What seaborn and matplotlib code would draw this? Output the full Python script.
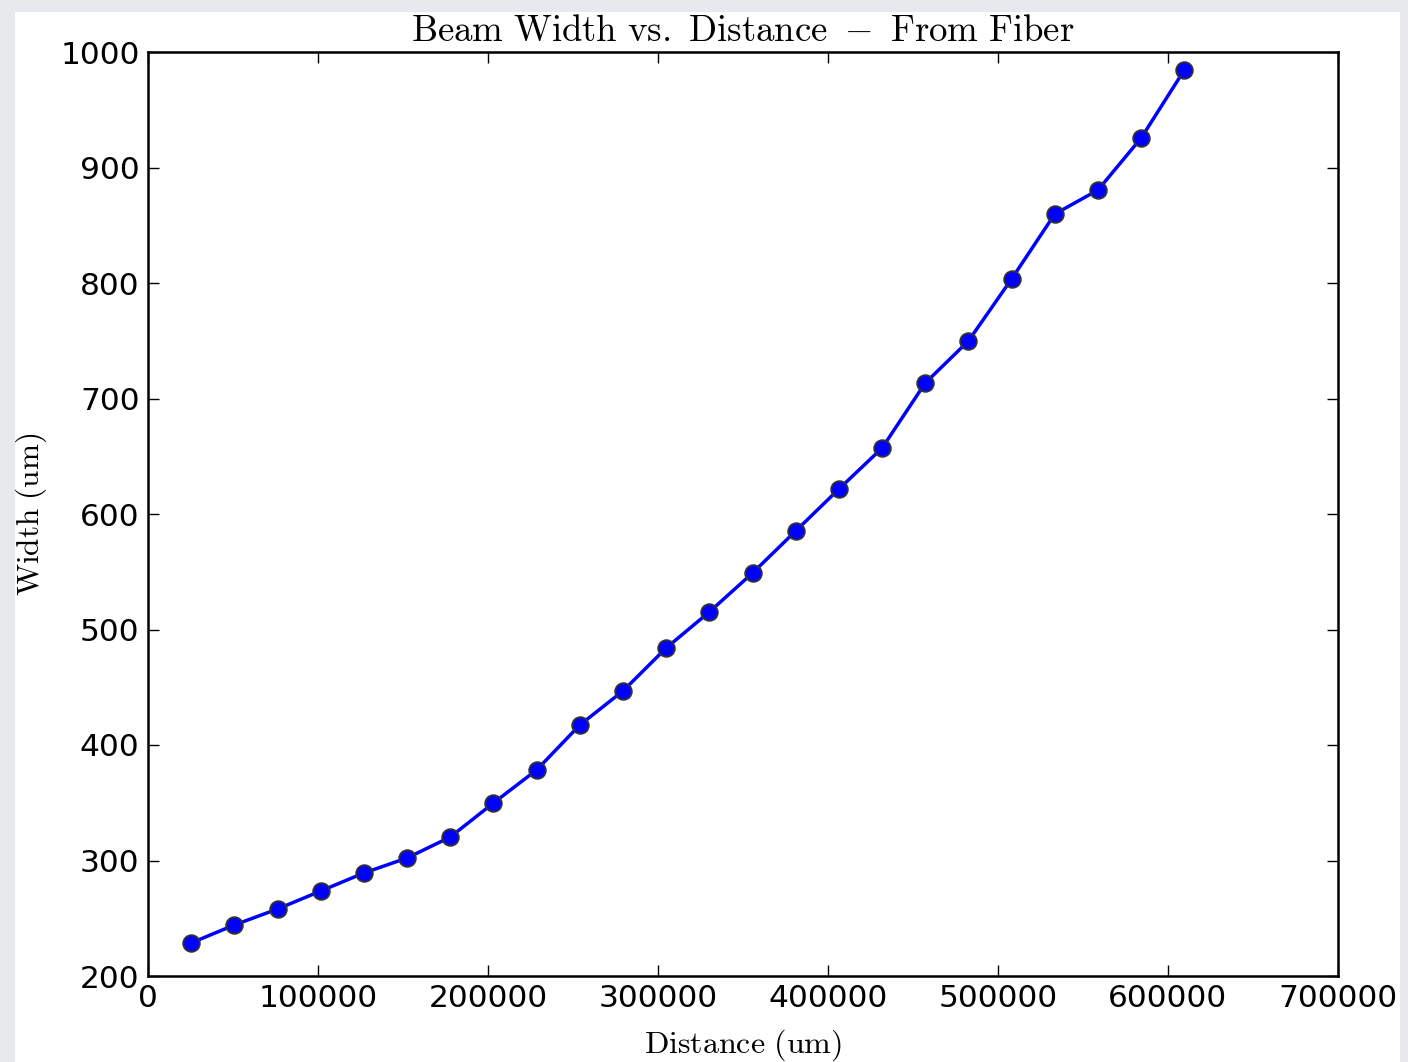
import matplotlib
matplotlib.use("Agg")
import matplotlib.pyplot as plt
import seaborn as sns
import pandas as pd
from matplotlib.patches import Rectangle

distance_um = [25400, 50800, 76200, 101600, 127000, 152400, 177800, 203200,
               228600, 254000, 279400, 304800, 330200, 355600, 381000, 406400,
               431800, 457200, 482600, 508000, 533400, 558800, 584200, 609600]
width_um = [228.6, 244.2, 258.0, 273.6, 289.2, 302.2, 320.3, 349.8,
            378.4, 417.3, 446.8, 484.0, 515.2, 548.9, 585.3, 621.6,
            657.1, 713.4, 749.8, 803.5, 859.7, 880.5, 925.5, 984.4]
x_ticks = [0, 100000, 200000, 300000, 400000, 500000, 600000, 700000]
y_ticks = [200, 300, 400, 500, 600, 700, 800, 900, 1000]

df = pd.DataFrame({"Distance": distance_um, "Width": width_um})

sns.set_style("ticks")
plt.rcParams['font.family'] = ['DejaVu Sans']
plt.rcParams['mathtext.fontset'] = 'cm'
plt.rcParams['text.color'] = 'black'
plt.rcParams['axes.labelcolor'] = 'black'

W, H = 1408, 1062
fig = plt.figure(figsize=(W / 100, H / 100), dpi=100)
fig.patch.set_facecolor('#e7e9ed')
fig.patches.append(Rectangle((15 / W, 0), (1400 - 15) / W, (H - 12) / H,
                             transform=fig.transFigure, facecolor='white',
                             edgecolor='none', zorder=-10))

ax = fig.add_axes([148 / W, (H - 976) / H, (1338 - 148) / W, (976 - 52) / H])
ax.set_zorder(5)
ax.set_facecolor('white')

sns.lineplot(data=df, x="Distance", y="Width", ax=ax, color='blue',
             linewidth=2.5, marker='o', markersize=12,
             markerfacecolor='blue', markeredgecolor='#333333',
             markeredgewidth=1.3, estimator=None, sort=False)

ax.set_xlim(0, 700000)
ax.set_ylim(200, 1000)
ax.set_xticks(x_ticks)
ax.set_yticks(y_ticks)
ax.set_xticklabels([str(v) for v in x_ticks])
ax.set_yticklabels([str(v) for v in y_ticks])
ax.tick_params(direction='in', length=8, width=1.0, labelsize=22.5,
               top=True, right=True, pad=6, colors='black')
for s in ax.spines.values():
    s.set_linewidth(1.8)
    s.set_color('black')
    s.set_visible(True)

ax.set_title(r'$\mathrm{Beam\ Width\ vs.\ Distance\ -\ From\ Fiber}$',
             fontsize=26.5, pad=8, color='black')
ax.set_xlabel(r'$\mathrm{Distance\ (um)}$', fontsize=23, labelpad=10,
              color='black')
ax.set_ylabel(r'$\mathrm{Width\ (um)}$', fontsize=22.5, labelpad=8,
              color='black')

fig.savefig('out.png', dpi=100, facecolor=fig.get_facecolor())
